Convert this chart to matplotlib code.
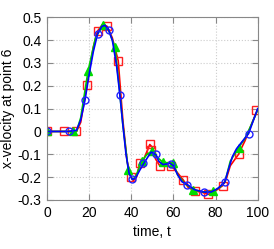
import matplotlib
matplotlib.use('Agg')
import matplotlib.pyplot as plt

# curves (time, x-velocity)
red_t = [0, 14, 16, 19, 22, 24, 26.5, 28.6, 31, 33.8, 36, 38, 39.9, 41, 42.5, 44, 46,
         48.8, 50, 51.5, 53.5, 56, 59, 61, 64.7, 67, 70.3, 73, 76.6, 80, 83.3, 85, 87,
         90.9, 94, 97, 100]
red_v = [0, 0, 0.04, 0.205, 0.37, 0.44, 0.47, 0.46, 0.41, 0.31, 0.05, -0.13, -0.2, -0.215,
         -0.2, -0.14, -0.12, -0.057, -0.07, -0.12, -0.15, -0.15, -0.153, -0.17, -0.213,
         -0.245, -0.262, -0.265, -0.276, -0.26, -0.238, -0.21, -0.15, -0.1, -0.04, 0.03, 0.096]
red_mt = [0, 8, 14, 19, 24, 28.6, 33.8, 39.9, 44, 48.8, 49.5, 53.5, 59, 64.7, 70.3, 76.6,
          83.3, 90.9, 99.3]
red_mv = [0, 0, 0, 0.205, 0.44, 0.46, 0.31, -0.2, -0.136, -0.057, -0.08, -0.15, -0.153,
          -0.213, -0.262, -0.276, -0.238, -0.1, 0.096]

green_t = [0, 14, 16, 19.5, 23, 26.7, 29, 32.2, 34, 36, 38.6, 40.5, 42, 45, 47.5, 50, 52,
           55, 60, 62, 65, 69.5, 74, 79, 82, 84.5, 87, 90.9, 94, 97, 100]
green_v = [0, 0, 0.06, 0.265, 0.41, 0.468, 0.45, 0.37, 0.22, 0.03, -0.17, -0.21, -0.2,
           -0.13, -0.1, -0.085, -0.11, -0.135, -0.14, -0.19, -0.225, -0.255, -0.265,
           -0.262, -0.245, -0.22, -0.13, -0.071, -0.03, 0.03, 0.095]
green_mt = [0, 12.4, 19.5, 26.7, 32.2, 38.6, 45, 50, 55, 60, 69.5, 79, 90.9]
green_mv = [0, 0, 0.265, 0.468, 0.37, -0.17, -0.13, -0.085, -0.135, -0.14, -0.255, -0.262,
            -0.071]

blue_t = [0, 10, 14, 16, 18, 20, 22, 24, 26, 27.5, 29.2, 31, 33, 34.6, 36, 37.5, 39, 40.5,
          42, 44, 46.2, 48, 49.5, 51.8, 53, 55, 58.5, 60, 62, 64, 66.6, 70, 74.7, 78, 81,
          84.3, 86, 88, 90, 93, 95.7, 98, 100]
blue_v = [0, 0, 0.005, 0.05, 0.136, 0.25, 0.35, 0.427, 0.46, 0.465, 0.446, 0.4, 0.29, 0.16,
          0.03, -0.1, -0.185, -0.21, -0.205, -0.17, -0.136, -0.11, -0.09, -0.103, -0.13,
          -0.145, -0.14, -0.15, -0.19, -0.22, -0.233, -0.255, -0.266, -0.265, -0.25, -0.223,
          -0.17, -0.11, -0.075, -0.04, -0.009, 0.05, 0.1]
blue_mt = [0, 10.3, 18, 24, 29.2, 34.6, 40.4, 45.5, 51.5, 58.8, 66.6, 74.7, 84.3, 95.7]
blue_mv = [0, 0, 0.136, 0.427, 0.446, 0.16, -0.21, -0.14, -0.1, -0.142, -0.233, -0.266,
           -0.223, -0.009]

xticks = [0, 20, 40, 60, 80, 100]
yticks = [-0.3, -0.2, -0.1, 0, 0.1, 0.2, 0.3, 0.4, 0.5]
ytick_labels = ['-0.3', '-0.2', '-0.1', '0', '0.1', '0.2', '0.3', '0.4', '0.5']

plt.rcParams['font.family'] = ['Liberation Sans', 'DejaVu Sans']
plt.rcParams['font.size'] = 10

fig = plt.figure(figsize=(2.74, 2.49), dpi=100)
ax = fig.add_axes([0.1715, 0.197, 0.769, 0.7335])

ax.plot(red_t, red_v, color='#ff0000', lw=1.2)
ax.plot(red_mt, red_mv, ls='none', marker='s', ms=5.5, mfc='none', mec='#ff2020', mew=1.0)
ax.plot(green_t, green_v, color='#00cc00', lw=1.2)
ax.plot(green_mt, green_mv, ls='none', marker='^', ms=5.5, color='#00dd00')
ax.plot(blue_t, blue_v, color='#0000ff', lw=1.2)
ax.plot(blue_mt, blue_mv, ls='none', marker='o', ms=5, mfc='none', mec='#2020ff', mew=1.0)

ax.set_xlim(0, 100)
ax.set_ylim(-0.3, 0.5)
ax.set_xticks(xticks)
ax.set_yticks(yticks)
ax.set_yticklabels(ytick_labels)
ax.tick_params(direction='in', top=True, right=True, color='#888888', length=4, pad=4)
for s in ax.spines.values():
    s.set_color('#888888')
ax.grid(True, ls=':', color='#cccccc', lw=0.8)

ax.set_xlabel('time, t', labelpad=4)
ax.set_ylabel('x-velocity at point 6', labelpad=2)

fig.savefig('out.png', dpi=100)
